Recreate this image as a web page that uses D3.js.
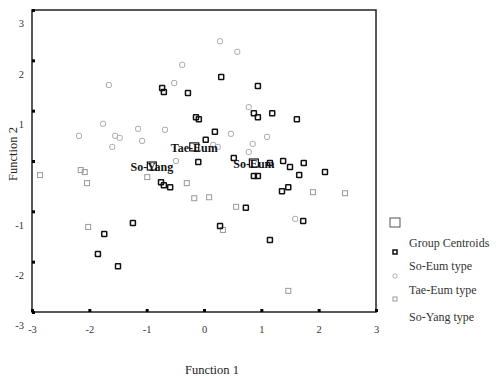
<!DOCTYPE html>
<html><head><meta charset="utf-8">
<script src="https://cdn.jsdelivr.net/npm/d3@7"></script>
<style>body{margin:0;background:#fff}svg{display:block}</style>
</head><body>
<svg id="c" width="499" height="380"></svg>
<script>
// ---- data (canonical discriminant function scores) ----
const soEumX = [0.30,-0.73,-0.70,-0.28,0.94,0.87,0.94,1.19,1.62,-0.14,-0.09,0.19,0.03,-0.10,0.52,1.15,1.38,1.50,1.74,1.66,2.11,0.87,0.94,1.36,1.47,1.73,1.15,0.73,0.28,-0.75,-0.70,-0.59,-1.24,-1.74,-1.85,-1.50];
const soEumY = [1.67,1.45,1.37,1.35,1.49,0.95,0.87,0.95,0.83,0.87,0.83,0.58,0.42,-0.02,0.06,-0.04,0.00,-0.12,-0.04,-0.28,-0.22,-0.30,-0.30,-0.60,-0.52,-1.19,-1.57,-0.93,-1.29,-0.42,-0.48,-0.52,-1.23,-1.45,-1.85,-2.09];
const taeEumX = [0.28,0.58,-0.38,-0.52,-1.66,-1.76,-2.18,-1.55,-1.47,-1.15,-1.08,-1.60,-0.68,0.78,0.47,1.10,0.16,0.24,0.85,0.78,-0.49,1.59];
const taeEumY = [2.38,2.17,1.91,1.55,1.51,0.74,0.50,0.50,0.46,0.64,0.40,0.28,0.62,1.07,0.54,0.48,0.32,0.28,0.34,0.18,0.00,-1.15];
const soYangX = [-2.86,-2.15,-2.08,-2.04,-2.02,-0.99,-0.30,-0.17,0.09,0.56,0.33,1.90,2.46,1.47];
const soYangY = [-0.28,-0.18,-0.22,-0.44,-1.31,-0.32,-0.44,-0.74,-0.72,-0.91,-1.37,-0.62,-0.64,-2.58];
const centroidNames = ["Tae-Eum","So-Yang","So-Eum"];
const centroidX = [-0.17,-0.91,0.87];
const centroidY = [0.28,-0.10,-0.04];
const legendLabels = ["Group Centroids","So-Eum type","Tae-Eum type","So-Yang type"];
const xTicks = [-3,-2,-1,0,1,2,3];
const yTicks = [-3,-2,-1,0,1,2,3];
const yTickLabels = ["-3","-2","-1","","1","2","3"];

const svg = d3.select("#c");
const x = d3.scaleLinear().domain([-3,3]).range([32,376]);
const y = d3.scaleLinear().domain([-3,3]).range([312,10]);
const serif = "'Liberation Serif','DejaVu Serif',serif";

// frame
svg.append("rect").attr("x",32).attr("y",10).attr("width",344).attr("height",302)
  .attr("fill","none").attr("stroke","#222").attr("stroke-width",1.5);

// axes
const xAxis = d3.axisBottom(x).tickValues(xTicks).tickSize(-3).tickPadding(14)
  .tickFormat(d=>String(d));
const gx = svg.append("g").attr("transform","translate(0,312)").call(xAxis);
gx.select(".domain").remove();
gx.selectAll("line").attr("stroke","#000").attr("stroke-width",3);
gx.selectAll("text").attr("font-family",serif).attr("font-size",10.5).attr("fill","#333");

const yAxis = d3.axisLeft(y).tickValues(yTicks).tickSize(-3).tickPadding(8)
  .tickFormat((d,i)=>yTickLabels[i]);
const gy = svg.append("g").attr("transform","translate(32,0)").call(yAxis);
gy.select(".domain").remove();
gy.selectAll("line").attr("stroke","#000").attr("stroke-width",3);
gy.selectAll("text").attr("font-family",serif).attr("font-size",10.5).attr("fill","#333")
  .attr("dy","1.6em");

// axis titles
svg.append("text").attr("x",212).attr("y",374).attr("text-anchor","middle")
  .attr("font-family",serif).attr("font-size",12.5).attr("fill","#222").text("Function 1");
svg.append("text").attr("transform","translate(17,154) rotate(-90)").attr("text-anchor","middle")
  .attr("font-family",serif).attr("font-size",12.5).attr("fill","#222").text("Function 2");

// points
function drawSquares(xs, ys, stroke, sw, rx){
  svg.append("g").selectAll("rect").data(xs).join("rect")
    .attr("x",(d)=>x(d)-2.5).attr("y",(d,i)=>y(ys[i])-2.5)
    .attr("width",5).attr("height",5).attr("rx",rx)
    .attr("fill","none").attr("stroke",stroke).attr("stroke-width",sw);
}
drawSquares(soYangX, soYangY, "#999", 1, 0);
drawSquares(taeEumX, taeEumY, "#aaa", 1, 1.5);
drawSquares(soEumX, soEumY, "#111", 1.5, 0.5);

// centroids
const cg = svg.append("g");
cg.selectAll("rect").data(centroidX).join("rect")
  .attr("x",d=>x(d)-4.5).attr("y",(d,i)=>y(centroidY[i])-4)
  .attr("width",9).attr("height",8).attr("fill","none").attr("stroke","#111").attr("stroke-width",1.2);
cg.selectAll("text").data(centroidNames).join("text")
  .attr("x",(d,i)=>x(centroidX[i])).attr("y",(d,i)=>y(centroidY[i])+5)
  .attr("text-anchor","middle").attr("font-family",serif).attr("font-size",12)
  .attr("font-weight","bold").attr("fill","#111").text(d=>d);

// legend
const lg = svg.append("g");
lg.append("rect").attr("x",390).attr("y",218).attr("width",10).attr("height",9)
  .attr("fill","none").attr("stroke","#555").attr("stroke-width",1);
lg.append("rect").attr("x",393).attr("y",250).attr("width",4).attr("height",4)
  .attr("fill","none").attr("stroke","#111").attr("stroke-width",1.5);
lg.append("rect").attr("x",393).attr("y",274).attr("width",4).attr("height",4).attr("rx",1.5)
  .attr("fill","none").attr("stroke","#aaa").attr("stroke-width",1);
lg.append("rect").attr("x",393).attr("y",297).attr("width",4).attr("height",4)
  .attr("fill","none").attr("stroke","#999").attr("stroke-width",1);
const ly = [247,270,294,321];
lg.selectAll("text").data(legendLabels).join("text")
  .attr("x",409).attr("y",(d,i)=>ly[i]).attr("font-family",serif).attr("font-size",12)
  .attr("fill","#333").text(d=>d);
</script>
</body></html>
